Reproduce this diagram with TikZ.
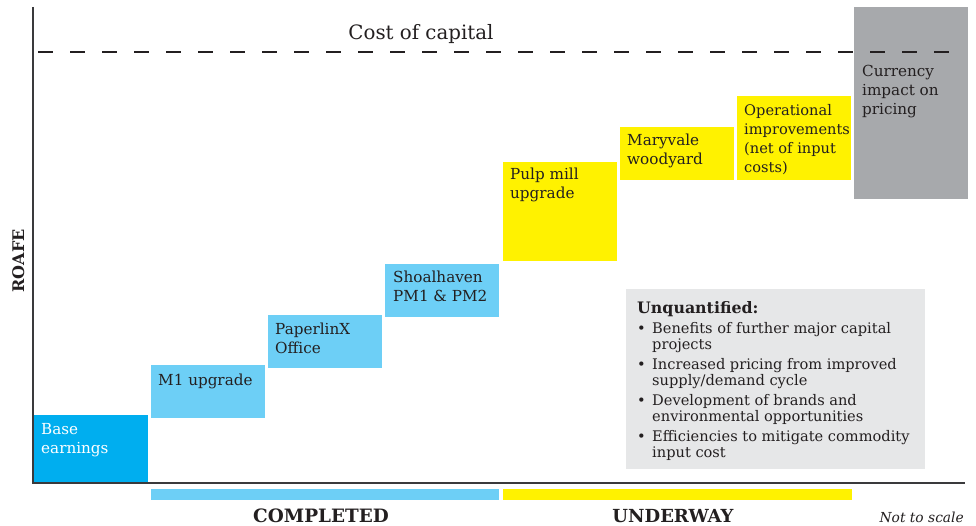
\documentclass[tikz,border=0pt]{standalone}
\usepackage{fontspec}
\setmainfont{DejaVu Serif}
\definecolor{basecol}{HTML}{00AEEF}
\definecolor{donecol}{HTML}{6DCFF6}
\definecolor{waycol}{HTML}{FFF200}
\definecolor{curcol}{HTML}{A7A9AC}
\definecolor{unqcol}{HTML}{E6E7E8}
\definecolor{ink}{HTML}{231F20}
\definecolor{axiscol}{HTML}{3A3A3C}
\newcommand{\boxfont}{\fontsize{15.2}{19}\selectfont}
\tikzset{
  bar/.style={anchor=north west, inner sep=0pt, outer sep=0pt},
  lbl/.style={anchor=base west, inner sep=0pt, text=ink},
}
\begin{document}
\begin{tikzpicture}[x=1pt,y=-1pt]
\useasboundingbox (0,0) rectangle (976,526);
% boxes
\node[bar, fill=basecol, minimum width=115pt, minimum height=68pt] (base) at (33,415) {};
\node[bar, fill=donecol, minimum width=114pt, minimum height=53pt] (m1) at (151,365) {};
\node[bar, fill=donecol, minimum width=114pt, minimum height=53pt] (plx) at (268,315) {};
\node[bar, fill=donecol, minimum width=114pt, minimum height=53pt] (shoal) at (385,264) {};
\node[bar, fill=waycol, minimum width=114pt, minimum height=99pt] (pulp) at (503,162) {};
\node[bar, fill=waycol, minimum width=114pt, minimum height=53pt] (mary) at (620,127) {};
\node[bar, fill=waycol, minimum width=114pt, minimum height=84pt] (oper) at (737,96) {};
\node[bar, fill=curcol, minimum width=114pt, minimum height=192pt] (cur) at (854,7) {};
\node[bar, fill=unqcol, minimum width=299pt, minimum height=180pt] (unq) at (626,289) {};
% bottom bars
\node[bar, fill=donecol, minimum width=348pt, minimum height=11pt] (donebar) at (151,489) {};
\node[bar, fill=waycol, minimum width=349pt, minimum height=11pt] (waybar) at (503,489) {};
% axes
\coordinate (ytop) at (33,7);
\coordinate (orig) at (33,483);
\coordinate (xend) at (965,483);
\draw[axiscol, line width=1.6pt] (ytop) -- (orig) -- (xend);
% cost of capital
\coordinate (cc1) at (38,52);
\coordinate (cc2) at (960,52);
\draw[ink, line width=2.6pt, dash pattern=on 15pt off 17pt] (cc1) -- (cc2);
\node[anchor=base, inner sep=0pt, text=ink, font=\fontsize{19.8}{22}\selectfont] (cctext) at (421,40) {Cost of capital};
% box labels
\node[lbl, text=white] (tbase) at (41,434) {\parbox[t]{108pt}{\boxfont\raggedright Base\\earnings}};
\node[lbl] (tm1) at (158,385) {\parbox[t]{108pt}{\boxfont\raggedright M1 upgrade}};
\node[lbl] (tplx) at (275,334) {\parbox[t]{108pt}{\boxfont\raggedright PaperlinX\\Office}};
\node[lbl] (tshoal) at (393,283) {\parbox[t]{108pt}{\boxfont\raggedright Shoalhaven\\PM1 \& PM2}};
\node[lbl] (tpulp) at (510,180) {\parbox[t]{108pt}{\boxfont\raggedright Pulp mill\\upgrade}};
\node[lbl] (tmary) at (627,146) {\parbox[t]{108pt}{\boxfont\raggedright Maryvale\\woodyard}};
\node[lbl] (toper) at (744,116) {\parbox[t]{115pt}{\fontsize{14.6}{18.7}\selectfont\raggedright Operational\\improvements\\(net of input\\costs)}};
\node[lbl] (tcur) at (862,77) {\parbox[t]{108pt}{\boxfont\raggedright Currency\\impact on\\pricing}};
% unquantified
\node[lbl, font=\bfseries\fontsize{15.8}{18}\selectfont] (tunq) at (637,313) {Unquantified:};
\node[lbl] (tunqlist) at (637,333) {\parbox[t]{290pt}{\fontsize{14.6}{16}\selectfont
  \setlength{\parskip}{4pt}\setlength{\parindent}{0pt}%
  \hangindent=15pt\hangafter=1\makebox[15pt][l]{\textbullet}Benefits of further major capital\\projects\par
  \hangindent=15pt\hangafter=1\makebox[15pt][l]{\textbullet}Increased pricing from improved\\supply/demand cycle\par
  \hangindent=15pt\hangafter=1\makebox[15pt][l]{\textbullet}Development of brands and\\environmental opportunities\par
  \hangindent=15pt\hangafter=1\makebox[15pt][l]{\textbullet}Efficiencies to mitigate commodity\\input cost}};
% bottom labels
\node[anchor=base, inner sep=0pt, text=ink, font=\bfseries\fontsize{18.4}{20}\selectfont] (tdone) at (321,522) {COMPLETED};
\node[anchor=base, inner sep=0pt, text=ink, font=\bfseries\fontsize{18}{20}\selectfont] (tway) at (673,522) {UNDERWAY};
\node[anchor=base east, inner sep=0pt, text=ink, font=\itshape\fontsize{13.8}{16}\selectfont] (tscale) at (964,522) {Not to scale};
\node[anchor=base, rotate=90, inner sep=0pt, text=ink, font=\bfseries\fontsize{16}{18}\selectfont] (troafe) at (24,261) {ROAFE};
\end{tikzpicture}
\end{document}
